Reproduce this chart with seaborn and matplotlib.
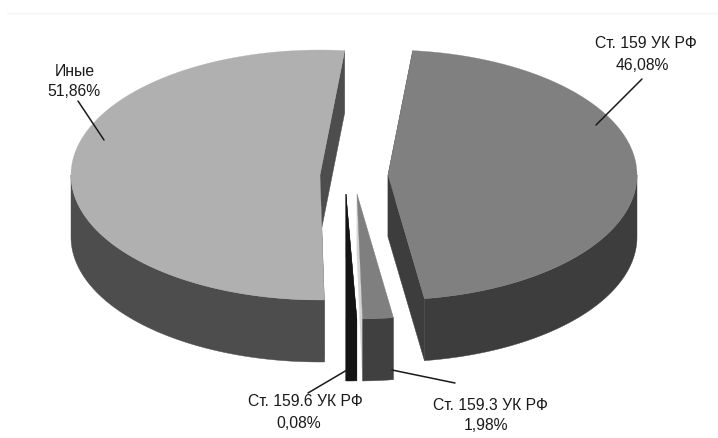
import numpy as np
import pandas as pd
import matplotlib
matplotlib.use("Agg")
import matplotlib.pyplot as plt
import seaborn as sns

# Shares of the total, in percent, clockwise from the pie's starting angle
categories = ["Ст. 159 УК РФ", "Ст. 159.3 УК РФ", "Ст. 159.6 УК РФ", "Иные"]
shares = [46.08, 1.98, 0.08, 51.86]
share_labels = ["46,08%", "1,98%", "0,08%", "51,86%"]

# Pie styling
top_colors = ["#808080", "#7f7f7f", "#141414", "#b0b0b0"]
cut_colors = ["#3d3d3d", "#d4d4d4", "#141414", "#4d4d4d"]
wall_colors = ["#3d3d3d", "#404040", "#141414", "#4d4d4d"]
apexes = [(388, 175), (357, 194), (346, 194), (320, 175)]
START_ANGLE = 5.7
RX, RY, DEPTH = 249, 125, 62
MIN_SWEEP = 2.5       # very thin slices stay visible at this sweep
SLIVER_NUDGE = 1.0    # keeps a widened sliver next to its neighbour

# Label placement: (x, y) for name and value lines, then the leader line ends
name_pos = [(646, 44), (490, 405), (305, 402), (74.5, 71)]
value_pos = [(642, 66), (486, 426), (299, 423), (74, 91)]
leaders = [((596, 125), (642, 79)), ((392, 370), (455, 383)),
           ((347, 370), (308, 393)), ((104, 140), (78, 101))]


def rim(apex, theta):
    t = np.radians(theta)
    return apex[0] + RX * np.sin(t), apex[1] - RY * np.cos(t)


def draw_slice(ax, apex, a0, a1, top, cut, wall):
    # Cut faces along the two straight edges of the slice
    for edge in (a0, a1):
        ex, ey = rim(apex, edge)
        ax.fill([apex[0], ex, ex, apex[0]],
                [apex[1], ey, ey + DEPTH, apex[1] + DEPTH],
                color=cut, lw=0.3, zorder=2)
    # Outer wall: only the part of the rim facing the viewer
    lo, hi = max(a0, 90), min(a1, 270)
    if hi > lo:
        arc = np.linspace(lo, hi, 180)
        xs, ys = rim(apex, arc)
        ax.fill(np.r_[xs, xs[::-1]], np.r_[ys, ys[::-1] + DEPTH],
                color=wall, lw=0.3, zorder=3)
    # Top face
    arc = np.linspace(a0, a1, 180)
    xs, ys = rim(apex, arc)
    ax.fill(np.r_[apex[0], xs], np.r_[apex[1], ys], color=top, lw=0.2, zorder=4)


sns.set_theme(style="white")
plt.rcParams["font.family"] = ["Liberation Sans", "DejaVu Sans"]

fig = plt.figure(figsize=(7.18, 4.38), dpi=100, facecolor="white")
ax = fig.add_axes([0, 0, 1, 1])

# Faint rule across the top of the figure
ax.plot([7, 718], [12.5, 12.5], color="#f4f4f4", lw=1, zorder=1)

sweeps = np.array(shares) * 3.6
bounds = START_ANGLE + np.r_[0, np.cumsum(sweeps)]
for i in range(len(shares)):
    a0, a1 = bounds[i], bounds[i + 1]
    if a1 - a0 < MIN_SWEEP:
        a1 = a1 + SLIVER_NUDGE
        a0 = a1 - MIN_SWEEP
    draw_slice(ax, apexes[i], a0, a1, top_colors[i], cut_colors[i], wall_colors[i])

for start, end in leaders:
    seg = pd.DataFrame({"x": [start[0], end[0]], "y": [start[1], end[1]]})
    sns.lineplot(data=seg, x="x", y="y", ax=ax, color="#1a1a1a", lw=1.1,
                 sort=False, estimator=None, legend=False, zorder=5)

ax.set_xlim(0, 718)
ax.set_ylim(438, 0)
ax.axis("off")

for name, value, np_, vp in zip(categories, share_labels, name_pos, value_pos):
    ax.text(np_[0], np_[1], name, ha="center", va="center", fontsize=11.3,
            color="#1a1a1a", zorder=6)
    ax.text(vp[0], vp[1], value, ha="center", va="center", fontsize=11.3,
            color="#1a1a1a", zorder=6)

fig.savefig("out.png", dpi=100, facecolor="white")
